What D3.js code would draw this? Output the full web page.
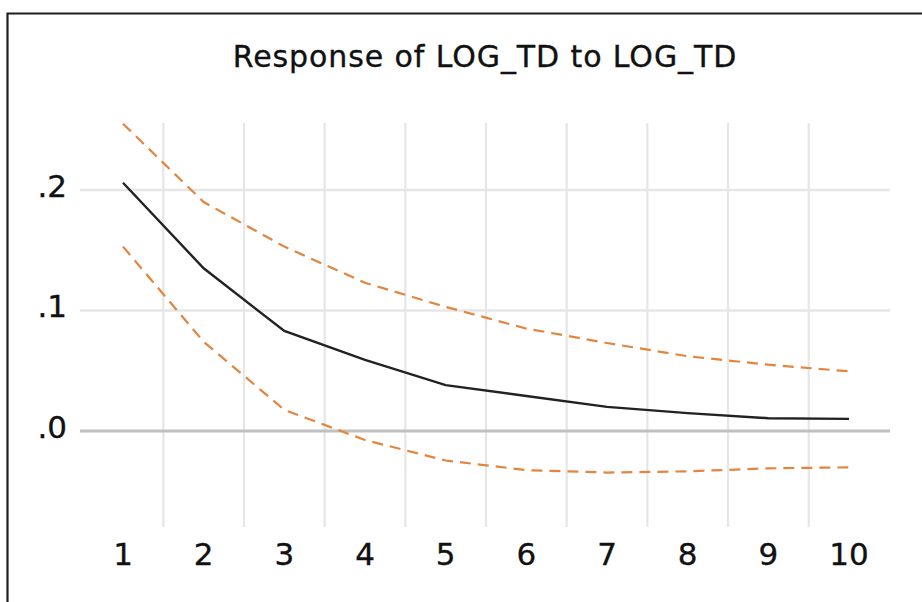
<!DOCTYPE html>
<html>
<head>
<meta charset="utf-8">
<script src="https://cdn.jsdelivr.net/npm/d3@7/dist/d3.min.js"></script>
<style>
  html, body { margin: 0; padding: 0; background: #fff; }
  svg { display: block; }
</style>
</head>
<body>
<svg id="chart" width="922" height="602"></svg>
<script>
// ---- data ----
const periods = [1, 2, 3, 4, 5, 6, 7, 8, 9, 10];
const response = [0.206, 0.135, 0.083, 0.059, 0.038, 0.029, 0.020, 0.0148, 0.0106, 0.0100];
const upperBand = [0.255, 0.190, 0.153, 0.123, 0.103, 0.085, 0.073, 0.062, 0.055, 0.0495];
const lowerBand = [0.153, 0.074, 0.0175, -0.0075, -0.0245, -0.0325, -0.0345, -0.0335, -0.031, -0.0302];
const yTicks = [0.0, 0.1, 0.2];
const yTickLabels = [".0", ".1", ".2"];
const titleText = "Response of LOG_TD to LOG_TD";

// ---- layout ----
const svg = d3.select("#chart");
const plotLeft = 80, plotRight = 890, plotTop = 123, plotBottom = 527;

const x = d3.scaleLinear().domain([0.467, 10.508]).range([plotLeft, plotRight]);
const y = d3.scaleLinear().domain([-0.0797, 0.2556]).range([plotBottom, plotTop]);

// frame (only left and top edges are visible in the crop)
svg.append("path")
  .attr("d", `M7.5,${602 + 5} L7.5,13.5 L${922 + 5},13.5`)
  .attr("fill", "none")
  .attr("stroke", "#1e1e1e")
  .attr("stroke-width", 2.2);

// title
svg.append("text")
  .attr("x", 485).attr("y", 67)
  .attr("text-anchor", "middle")
  .attr("font-family", "DejaVu Sans, sans-serif")
  .attr("font-size", 30)
  .attr("letter-spacing", 0.9)
  .attr("fill", "#111")
  .attr("stroke", "#111").attr("stroke-width", 0.35)
  .text(titleText);

// vertical gridlines between periods
const vGrid = periods.slice(0, -1).map(p => p + 0.5);
svg.append("g").selectAll("line").data(vGrid).join("line")
  .attr("x1", d => x(d)).attr("x2", d => x(d))
  .attr("y1", plotTop).attr("y2", plotBottom)
  .attr("stroke", "#e6e6e6").attr("stroke-width", 2.2);

// horizontal gridlines
svg.append("g").selectAll("line").data(yTicks).join("line")
  .attr("x1", plotLeft).attr("x2", plotRight)
  .attr("y1", d => y(d)).attr("y2", d => y(d))
  .attr("stroke", d => d === 0 ? "#c0c0c0" : "#e6e6e6")
  .attr("stroke-width", d => d === 0 ? 3 : 2.6);

// y tick labels
svg.append("g").selectAll("text").data(yTicks).join("text")
  .attr("x", 67).attr("y", d => y(d) + 7)
  .attr("text-anchor", "end")
  .attr("font-family", "DejaVu Sans, sans-serif")
  .attr("font-size", 31)
  .attr("fill", "#111")
  .attr("stroke", "#111").attr("stroke-width", 0.35)
  .text((d, i) => yTickLabels[i]);

// x tick labels
svg.append("g").selectAll("text").data(periods).join("text")
  .attr("x", d => x(d)).attr("y", 565)
  .attr("text-anchor", "middle")
  .attr("font-family", "DejaVu Sans, sans-serif")
  .attr("font-size", 31)
  .attr("fill", "#111")
  .attr("stroke", "#111").attr("stroke-width", 0.35)
  .text(d => String(d));

// lines
const line = d3.line()
  .x((d, i) => x(periods[i]))
  .y(d => y(d));

[upperBand, lowerBand].forEach(band => {
  svg.append("path")
    .datum(band)
    .attr("d", line)
    .attr("fill", "none")
    .attr("stroke", "#e3843f")
    .attr("stroke-width", 2.2)
    .attr("stroke-dasharray", "11,7");
});

svg.append("path")
  .datum(response)
  .attr("d", line)
  .attr("fill", "none")
  .attr("stroke", "#222")
  .attr("stroke-width", 2.4);
</script>
</body>
</html>
